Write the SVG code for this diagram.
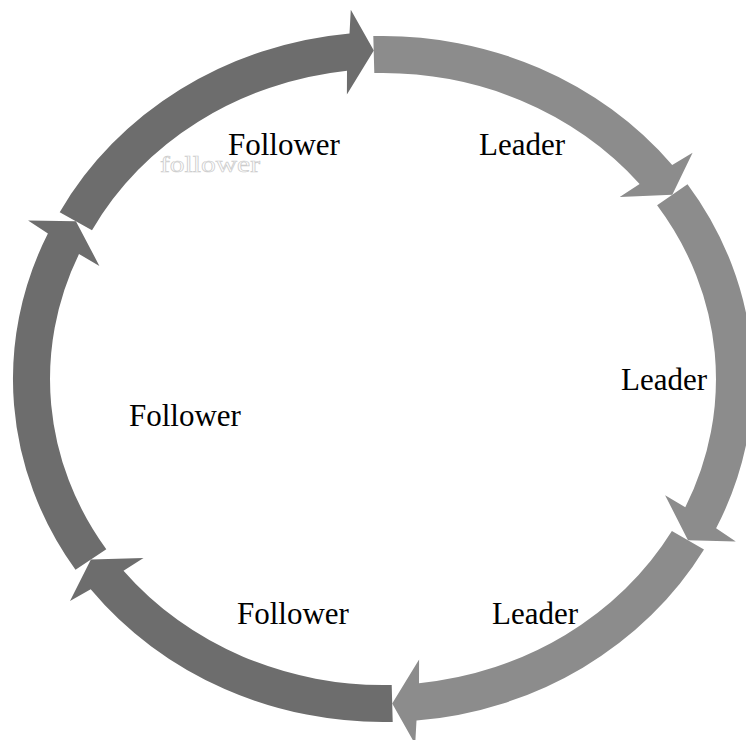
<svg xmlns="http://www.w3.org/2000/svg" width="746" height="740" viewBox="0 0 746 740">
  <style>
    .lead { fill: #8c8c8c; }
    .follow { fill: #6d6d6d; }
    .label { font-family: "Liberation Serif", "Times New Roman", serif; font-size: 31px; fill: #000000; }
    .ghost { font-family: "Liberation Serif", "Times New Roman", serif; font-size: 24px; fill: #ffffff; stroke: #cccccc; stroke-width: 0.7; }
  </style>
  <rect width="746" height="740" fill="#ffffff"/>

  <!-- Six curved arrow segments running clockwise round an ellipse
       (centre 383,379; band between 370x343 and 333x306 radii) -->
  <g id="leader-top">
    <path class="lead" d="M 373.3 36.1 A 370 343 0 0 1 672.2 165.0 L 692.6 152.8 L 672.3 194.7 L 619.7 197.0 L 639.6 184.0 A 333 306 0 0 0 374.3 73.1 Z"/>
    <text class="label" x="479" y="155">Leader</text>
  </g>
  <g id="leader-right">
    <path class="lead" d="M 687.5 184.2 A 370 343 0 0 1 716.1 528.3 L 735.8 541.4 L 688.0 540.3 L 665.1 495.2 L 685.3 507.3 A 333 306 0 0 0 657.1 205.3 Z"/>
    <text class="label" x="621" y="389.5">Leader</text>
  </g>
  <g id="leader-bottom">
    <path class="lead" d="M 704.0 549.5 A 370 343 0 0 1 416.5 720.6 L 415.2 744.3 L 392.2 703.4 L 419.1 659.6 L 419.0 683.2 A 333 306 0 0 0 671.9 531.1 Z"/>
    <text class="label" x="492" y="624">Leader</text>
  </g>
  <g id="follower-bottom">
    <path class="follow" d="M 392.7 721.9 A 370 343 0 0 1 90.7 589.2 L 70.0 601.1 L 90.9 559.5 L 143.5 557.9 L 123.5 570.7 A 333 306 0 0 0 391.7 684.9 Z"/>
    <text class="label" x="237" y="624">Follower</text>
  </g>
  <g id="follower-left">
    <path class="follow" d="M 75.5 569.8 A 370 343 0 0 1 47.9 233.5 L 28.1 220.6 L 75.9 221.2 L 99.4 265.9 L 79.0 254.1 A 333 306 0 0 0 106.3 549.2 Z"/>
    <text class="label" x="129" y="425.5">Follower</text>
  </g>
  <g id="follower-top">
    <path class="follow" d="M 59.7 212.2 A 370 343 0 0 1 349.5 33.4 L 350.8 9.7 L 373.8 50.6 L 346.9 94.4 L 347.0 70.8 A 333 306 0 0 0 92.0 230.2 Z"/>
    <text class="label" x="228" y="155">Follower</text>
  </g>

  <!-- faint outlined, widened word beneath the top label -->
  <text class="ghost" x="160" y="172.3" textLength="100" lengthAdjust="spacingAndGlyphs">follower</text>
</svg>
